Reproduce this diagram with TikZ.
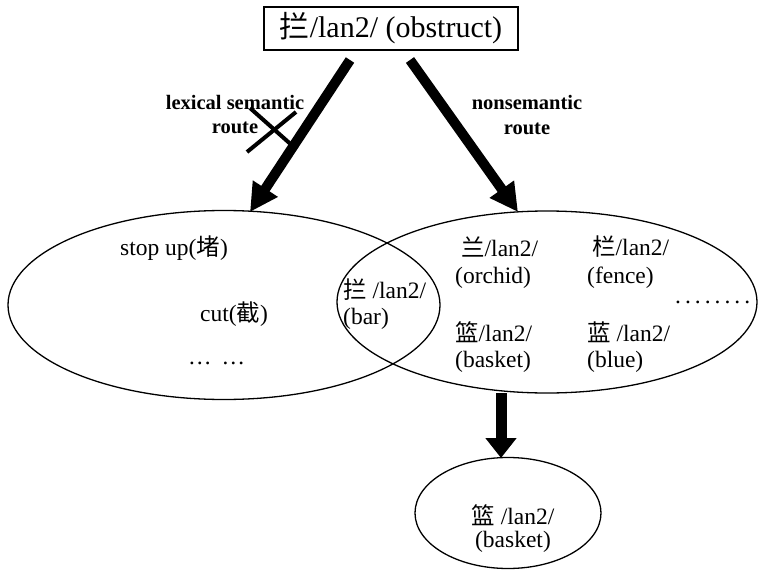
\documentclass[tikz,border=0pt]{standalone}
\usepackage{fontspec}
\setmainfont{Liberation Serif}
\newfontfamily\cjk{Noto Sans CJK SC}
\usetikzlibrary{arrows.meta,shapes.geometric}
\newcommand{\sdot}{.\hspace{4pt}}
\tikzset{
  body/.style={anchor=west,inner sep=0pt,font=\fontsize{23.5}{26}\selectfont},
  lbl/.style={anchor=center,inner sep=0pt,font=\fontsize{20.5}{23}\selectfont\bfseries},
  oval/.style={ellipse,draw,line width=1.3pt,inner sep=0pt},
  bigarrow/.style={line width=10pt,-{Triangle[length=28pt,width=28pt]}},
  downarrow/.style={line width=11pt,-{Triangle[length=20pt,width=30pt]}},
  crossline/.style={line width=4pt}
}
\begin{document}
\begin{tikzpicture}[x=1pt,y=-1pt]
\useasboundingbox (0,0) rectangle (761,570);
% top box
\node[draw,line width=1.8pt,minimum width=254pt,minimum height=43pt,inner sep=0pt,
  font=\fontsize{30}{32}\selectfont] (top) at (391,28.5) {{\cjk 拦}/lan2/ (obstruct)};
% ellipses
\node[oval,minimum width=432pt,minimum height=189pt] (L) at (224,305) {};
\node[oval,minimum width=420pt,minimum height=182pt] (R) at (547,302) {};
\node[oval,minimum width=186pt,minimum height=111pt] (B) at (508,513) {};
% arrows
\coordinate (a1s) at (350,60);
\coordinate (a1e) at (250,212);
\coordinate (a2s) at (410,60);
\coordinate (a2e) at (518,212);
\coordinate (a3s) at (501,393);
\coordinate (a3e) at (501,458);
\draw[bigarrow] (a1s) -- (a1e);
\draw[bigarrow] (a2s) -- (a2e);
\draw[downarrow] (a3s) -- (a3e);
% cross
\draw[crossline] (247,152) -- (296,112);
\draw[crossline] (250,108) -- (295,148);
% route labels
\node[lbl] (l1) at (235,102) {lexical semantic};
\node[lbl] (l2) at (235,128) {route};
\node[lbl] (n1) at (527,102) {nonsemantic};
\node[lbl] (n2) at (527,129) {route};
% left ellipse texts
\node[body] (t1) at (120,248) {stop up({\cjk 堵})};
\node[body] (t2) at (200,314) {cut({\cjk 截})};
\node[body] (t3) at (188,363) {…\hspace{10pt}…};
% lens
\node[body] (t4) at (343,290) {{\cjk 拦} /lan2/};
\node[body] (t5) at (343,319) {(bar)};
% right ellipse texts
\node[body] (r1) at (461,247) {{\cjk 兰}/lan2/};
\node[body] (r2) at (455,278) {(orchid)};
\node[body] (r3) at (592,247) {{\cjk 栏}/lan2/};
\node[body] (r4) at (587,278) {(fence)};
\node[body] (r5) at (675,302) {\sdot\sdot\sdot\sdot\sdot\sdot\sdot.};
\node[body] (r6) at (455,332) {{\cjk 篮}/lan2/};
\node[body] (r7) at (455,362) {(basket)};
\node[body] (r8) at (587,332) {{\cjk 蓝} /lan2/};
\node[body] (r9) at (587,362) {(blue)};
% bottom ellipse texts
\node[body,anchor=center] (b1) at (513,515) {{\cjk 篮} /lan2/};
\node[body,anchor=center] (b2) at (513,542) {(basket)};
\end{tikzpicture}
\end{document}
